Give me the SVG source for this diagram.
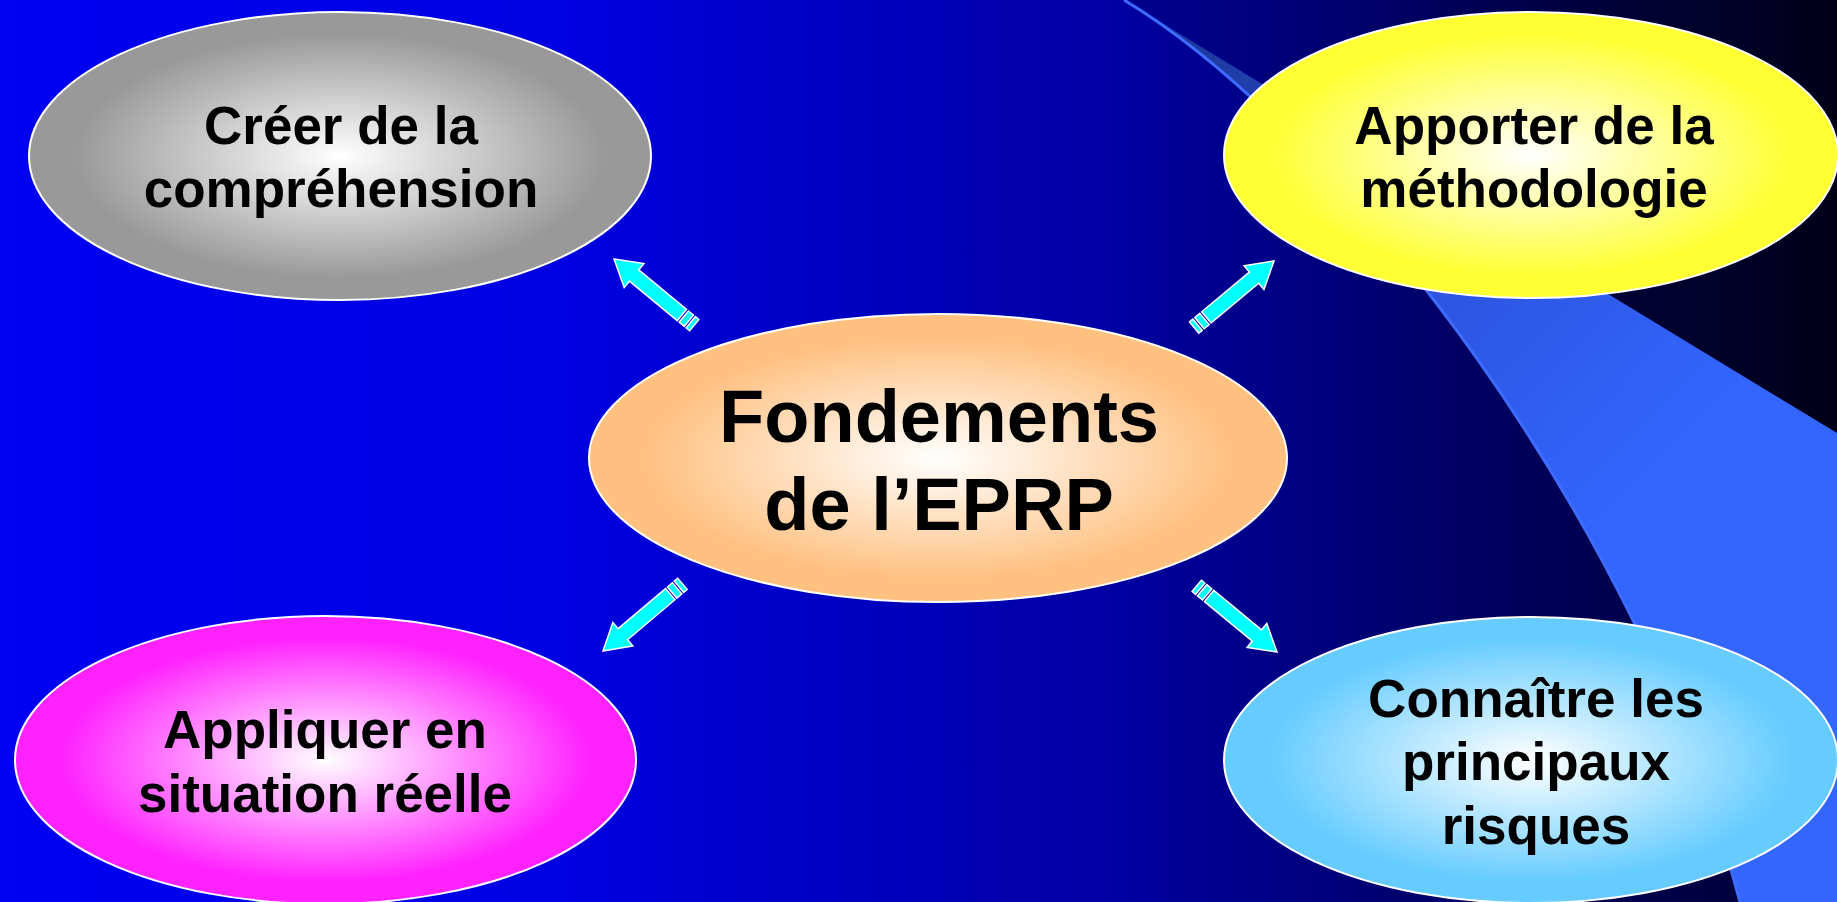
<svg xmlns="http://www.w3.org/2000/svg" xmlns:xlink="http://www.w3.org/1999/xlink" width="1837" height="902" viewBox="0 0 1837 902">
  <defs>
    <linearGradient id="bg" x1="0" y1="0" x2="1" y2="0">
      <stop offset="0" stop-color="#0000F2"/>
      <stop offset="0.3" stop-color="#0000E2"/>
      <stop offset="0.6" stop-color="#0000A4"/>
      <stop offset="0.8" stop-color="#000062"/>
      <stop offset="1" stop-color="#000030"/>
    </linearGradient>
    <linearGradient id="corner" gradientUnits="userSpaceOnUse" x1="1127" y1="0" x2="1837" y2="0">
      <stop offset="0" stop-color="#000090"/>
      <stop offset="0.3" stop-color="#000070"/>
      <stop offset="0.7" stop-color="#000035"/>
      <stop offset="1" stop-color="#000018"/>
    </linearGradient>
    <linearGradient id="band" gradientUnits="userSpaceOnUse" x1="1127" y1="0" x2="1650" y2="500">
      <stop offset="0" stop-color="#1a3390"/>
      <stop offset="0.6" stop-color="#2d55e0"/>
      <stop offset="1" stop-color="#3366FF"/>
    </linearGradient>
    <radialGradient id="gGray" cx="0.5" cy="0.5" r="0.5">
      <stop offset="0" stop-color="#FFFFFF"/>
      <stop offset="0.85" stop-color="#999999"/>
      <stop offset="1" stop-color="#999999"/>
    </radialGradient>
    <radialGradient id="gYellow" cx="0.5" cy="0.5" r="0.5">
      <stop offset="0" stop-color="#FFFFFF"/>
      <stop offset="0.85" stop-color="#FFFF33"/>
      <stop offset="1" stop-color="#FFFF33"/>
    </radialGradient>
    <radialGradient id="gPeach" cx="0.5" cy="0.5" r="0.5">
      <stop offset="0" stop-color="#FFFFFF"/>
      <stop offset="0.85" stop-color="#FFC080"/>
      <stop offset="1" stop-color="#FFC080"/>
    </radialGradient>
    <radialGradient id="gMagenta" cx="0.5" cy="0.5" r="0.5">
      <stop offset="0" stop-color="#FFFFFF"/>
      <stop offset="0.85" stop-color="#FF22FF"/>
      <stop offset="1" stop-color="#FF22FF"/>
    </radialGradient>
    <radialGradient id="gBlue" cx="0.5" cy="0.5" r="0.5">
      <stop offset="0" stop-color="#FFFFFF"/>
      <stop offset="0.85" stop-color="#66CCFF"/>
      <stop offset="1" stop-color="#66CCFF"/>
    </radialGradient>
    <g id="arrow">
      <polygon points="0,0 26,-15.5 26,-7.3 88,-7.3 88,7.3 26,7.3 26,15.5"/>
      <rect x="90.5" y="-7.3" width="6.5" height="14.6"/>
      <rect x="99.5" y="-7.3" width="4.5" height="14.6"/>
    </g>
    <style>
      .node ellipse { stroke: #FFFFFF; stroke-width: 2; }
      .lbl { font-family: "Liberation Sans", Arial, sans-serif; font-weight: bold; font-size: 53px; fill: #000000; text-anchor: middle; }
      .big { font-size: 74px; }
      .arr { fill: #00FFFF; stroke: #FFFFFF; stroke-width: 1.5; stroke-linejoin: miter; }
    </style>
  </defs>

  <g id="background">
    <rect x="0" y="0" width="1837" height="902" fill="url(#bg)"/>
    <polygon points="1127,0 1837,0 1837,433" fill="url(#corner)"/>
    <path d="M1124,0 C1340,130 1640,520 1740,902 L1837,902 L1837,433 Z" fill="url(#band)"/>
    <path d="M1124,0 C1340,130 1640,520 1740,902" fill="none" stroke="#3d6cff" stroke-width="3"/>
  </g>

  <g id="connectors">
    <use xlink:href="#arrow" class="arr" transform="translate(614,259) rotate(39.5)"/>
    <use xlink:href="#arrow" class="arr" transform="translate(1274,261) rotate(140.2)"/>
    <use xlink:href="#arrow" class="arr" transform="translate(603,651) rotate(-40.2)"/>
    <use xlink:href="#arrow" class="arr" transform="translate(1277,652) rotate(-140.5)"/>
  </g>

  <g id="node-comprehension" class="node">
    <ellipse cx="340" cy="156" rx="311" ry="144" fill="url(#gGray)"/>
    <text class="lbl" x="341" y="144">Créer de la</text>
    <text class="lbl" x="341" y="207">compréhension</text>
  </g>

  <g id="node-methodologie" class="node">
    <ellipse cx="1531" cy="155" rx="307" ry="143" fill="url(#gYellow)"/>
    <text class="lbl" x="1534" y="144">Apporter de la</text>
    <text class="lbl" x="1534" y="207">méthodologie</text>
  </g>

  <g id="node-fondements" class="node">
    <ellipse cx="938" cy="458" rx="349" ry="144" fill="url(#gPeach)"/>
    <text class="lbl big" x="939" y="442">Fondements</text>
    <text class="lbl big" x="939" y="530">de l’EPRP</text>
  </g>

  <g id="node-appliquer" class="node">
    <ellipse cx="325.5" cy="760" rx="310.5" ry="144" fill="url(#gMagenta)"/>
    <text class="lbl" x="325" y="748">Appliquer en</text>
    <text class="lbl" x="325" y="812">situation réelle</text>
  </g>

  <g id="node-risques" class="node">
    <ellipse cx="1531" cy="760" rx="307" ry="143" fill="url(#gBlue)"/>
    <text class="lbl" x="1536" y="717">Connaître les</text>
    <text class="lbl" x="1536" y="780">principaux</text>
    <text class="lbl" x="1536" y="844">risques</text>
  </g>
</svg>
